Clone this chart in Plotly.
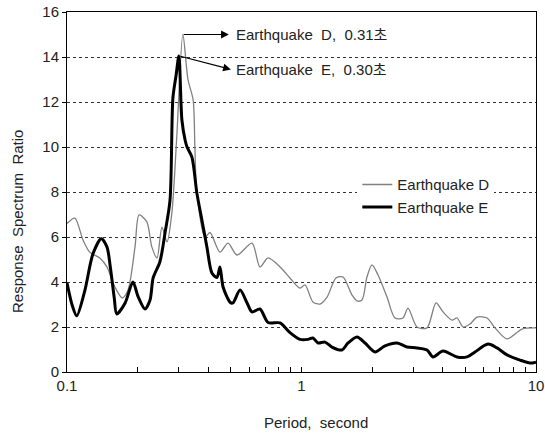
import math
import plotly.graph_objects as go

# Earthquake D (thin gray)
period_d = [0.100, 0.108, 0.117, 0.125, 0.138, 0.148, 0.160, 0.172, 0.182, 0.195,
            0.203, 0.219, 0.230, 0.242, 0.254, 0.267, 0.280, 0.294, 0.312, 0.328,
            0.345, 0.351, 0.358, 0.388, 0.407, 0.449, 0.486, 0.531, 0.615, 0.665,
            0.720, 0.810, 0.893, 0.985, 1.035, 1.119, 1.199, 1.285, 1.403, 1.503,
            1.642, 1.725, 1.811, 1.902, 1.998, 2.120, 2.316, 2.504, 2.709, 2.846,
            3.109, 3.429, 3.746, 4.012, 4.384, 4.604, 4.884, 5.232, 5.603, 6.181,
            6.688, 7.521, 8.716, 10.0]
ratio_d = [6.60, 6.84, 5.87, 5.33, 5.07, 4.67, 3.78, 3.29, 3.64, 5.56,
           6.98, 6.67, 5.56, 5.07, 6.44, 5.78, 7.07, 10.5, 15.0, 13.0,
           12.1, 10.0, 7.95, 6.00, 6.20, 5.33, 5.73, 5.20, 5.73, 4.67,
           5.07, 4.67, 4.18, 3.73, 3.87, 3.11, 3.02, 3.33, 4.18, 4.22,
           3.42, 3.16, 3.20, 4.22, 4.76, 4.31, 3.33, 2.40, 2.40, 2.84,
           2.00, 1.96, 3.07, 2.67, 2.31, 2.40, 2.00, 2.13, 2.44, 2.40,
           1.96, 1.47, 1.91, 1.96]

# Earthquake E (thick black)
period_e = [0.100, 0.105, 0.110, 0.119, 0.129, 0.140, 0.148, 0.153, 0.159, 0.163,
            0.177, 0.191, 0.201, 0.215, 0.226, 0.233, 0.249, 0.262, 0.275, 0.283,
            0.292, 0.300, 0.309, 0.319, 0.325, 0.341, 0.358, 0.376, 0.395, 0.415,
            0.436, 0.449, 0.463, 0.496, 0.510, 0.547, 0.586, 0.615, 0.665, 0.720,
            0.810, 0.893, 0.985, 1.066, 1.119, 1.176, 1.260, 1.349, 1.488, 1.579,
            1.725, 1.866, 2.058, 2.271, 2.554, 2.818, 3.109, 3.429, 3.637, 4.012,
            4.604, 5.080, 5.494, 6.242, 6.821, 7.521, 8.546, 9.428, 10.0]
ratio_e = [3.96, 3.00, 2.50, 3.60, 5.25, 5.92, 5.56, 4.67, 3.30, 2.58,
           3.07, 4.00, 3.35, 2.80, 3.20, 4.18, 4.90, 6.20, 7.64, 12.2,
           13.2, 14.05, 11.2, 10.3, 10.0, 9.55, 7.95, 6.76, 5.56, 4.40,
           4.20, 4.67, 3.78, 3.10, 3.07, 3.64, 3.07, 2.67, 2.80, 2.20,
           2.18, 1.75, 1.45, 1.45, 1.51, 1.29, 1.33, 1.11, 0.98, 1.29,
           1.56, 1.29, 0.89, 1.16, 1.29, 1.11, 1.07, 0.98, 0.67, 0.93,
           0.67, 0.67, 0.89, 1.24, 1.07, 0.76, 0.53, 0.40, 0.44]

y_ticks = [0, 2, 4, 6, 8, 10, 12, 14, 16]
x_tickvals = [0.1, 0.2, 0.3, 0.4, 0.5, 0.6, 0.7, 0.8, 0.9,
              1, 2, 3, 4, 5, 6, 7, 8, 9, 10]
x_ticktext = ["0.1", "", "", "", "", "", "", "", "",
              "1", "", "", "", "", "", "", "", "", "10"]

peak_d = (0.31, 15.0)
peak_e = (0.30, 14.05)
label_d = "Earthquake  D,  0.31초"
label_e = "Earthquake  E,  0.30초"
x_title = "Period,  second"
y_title = "Response  Spectrum  Ratio"

FONT = "Liberation Sans, Noto Sans CJK KR, sans-serif"
TXT = "#222222"

fig = go.Figure()
fig.add_trace(go.Scatter(
    x=period_d, y=ratio_d, mode="lines", name="Earthquake D",
    line=dict(color="#808080", width=1.3, shape="spline", smoothing=0.8)))
fig.add_trace(go.Scatter(
    x=period_e, y=ratio_e, mode="lines", name="Earthquake E",
    line=dict(color="#000000", width=3, shape="spline", smoothing=0.8)))

# arrows from peaks
fig.add_annotation(x=math.log10(0.49), y=15.0, ax=math.log10(peak_d[0]), ay=peak_d[1],
                   xref="x", yref="y", axref="x", ayref="y", text="",
                   showarrow=True, arrowhead=2, arrowsize=1.3, arrowwidth=1.2,
                   arrowcolor="#000000")
fig.add_annotation(x=math.log10(0.50), y=13.45, ax=math.log10(peak_e[0]), ay=peak_e[1],
                   xref="x", yref="y", axref="x", ayref="y", text="",
                   showarrow=True, arrowhead=2, arrowsize=1.3, arrowwidth=1.2,
                   arrowcolor="#000000")
fig.add_annotation(x=math.log10(0.515), y=15.0, xref="x", yref="y", text=label_d,
                   showarrow=False, xanchor="left", yanchor="middle",
                   font=dict(family=FONT, size=15, color=TXT))
fig.add_annotation(x=math.log10(0.515), y=13.45, xref="x", yref="y", text=label_e,
                   showarrow=False, xanchor="left", yanchor="middle",
                   font=dict(family=FONT, size=15, color=TXT))

# axis titles as annotations (positioned like the reference)
fig.add_annotation(x=(316 - 67) / 469, y=-50 / 360, xref="paper", yref="paper",
                   text=x_title, showarrow=False, xanchor="center", yanchor="middle",
                   font=dict(family=FONT, size=15, color=TXT))
fig.add_annotation(x=-49 / 469, y=(372 - 222) / 360, xref="paper", yref="paper",
                   text=y_title, showarrow=False, textangle=-90,
                   xanchor="center", yanchor="middle",
                   font=dict(family=FONT, size=15, color=TXT))

fig.update_layout(
    width=545, height=434,
    margin=dict(l=67, r=9, t=12, b=62, autoexpand=False),
    paper_bgcolor="white", plot_bgcolor="white",
    font=dict(family=FONT, size=14, color=TXT),
    showlegend=True,
    legend=dict(x=0.619, y=0.566, xanchor="left", yanchor="top",
                bgcolor="white", borderwidth=0,
                font=dict(family=FONT, size=15, color=TXT),
                itemwidth=30, tracegroupgap=0),
)
fig.update_xaxes(
    type="log", range=[-1, 1], automargin=False,
    tickvals=x_tickvals, ticktext=x_ticktext,
    ticks="inside", ticklen=5, tickcolor="black",
    showline=True, linecolor="black", linewidth=1, mirror=True,
    showgrid=False, zeroline=False,
    tickfont=dict(family=FONT, size=15, color=TXT),
)
fig.update_yaxes(
    range=[0, 16], tickvals=y_ticks, automargin=False,
    ticks="outside", ticklen=4, tickcolor="black",
    showline=True, linecolor="black", linewidth=1, mirror=True,
    showgrid=True, gridcolor="#333333", griddash="dot", gridwidth=1,
    zeroline=False,
    tickfont=dict(family=FONT, size=15, color=TXT),
)

fig.write_html("out.html")
